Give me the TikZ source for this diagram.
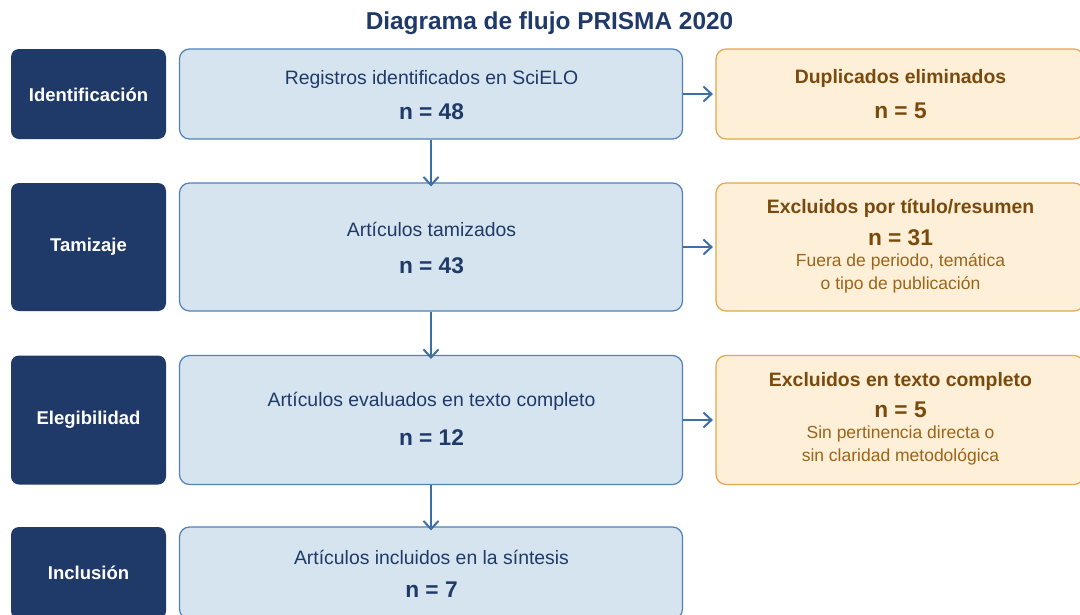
\documentclass[tikz,border=0pt]{standalone}
\usepackage{fontspec}
\setmainfont{Liberation Sans}
\usetikzlibrary{arrows.meta}
\definecolor{navy}{HTML}{1F3A68}
\definecolor{midfill}{HTML}{D6E4F0}
\definecolor{midline}{HTML}{4F82B8}
\definecolor{arrowc}{HTML}{3C6FA6}
\definecolor{orfill}{HTML}{FEEFD9}
\definecolor{orline}{HTML}{E2A74E}
\definecolor{brown}{HTML}{7A4A0C}
\definecolor{lbrown}{HTML}{9C6418}
\begin{document}
\begin{tikzpicture}[x=1pt,y=-1pt,
  phase/.style={rectangle,rounded corners=8pt,fill=navy,draw=none,minimum width=155pt,inner sep=0pt},
  midbox/.style={rectangle,rounded corners=10pt,fill=midfill,draw=midline,line width=1.2pt,minimum width=503pt,inner sep=0pt},
  exbox/.style={rectangle,rounded corners=10pt,fill=orfill,draw=orline,line width=1.2pt,minimum width=368pt,inner sep=0pt},
  phasetxt/.style={text=white,font=\fontsize{18.5}{22}\selectfont\bfseries,inner sep=0pt},
  midtxt/.style={text=navy,font=\fontsize{19.4}{23}\selectfont,inner sep=0pt},
  ntxt/.style={text=navy,font=\fontsize{22.7}{27}\selectfont\bfseries,inner sep=0pt},
  extitle/.style={text=brown,font=\fontsize{19.4}{23}\selectfont\bfseries,inner sep=0pt},
  exn/.style={text=brown,font=\fontsize{22.7}{27}\selectfont\bfseries,inner sep=0pt},
  exsub/.style={text=lbrown,font=\fontsize{17.5}{21}\selectfont,inner sep=0pt},
  flow/.style={draw=arrowc,line width=2pt,-{Straight Barb[length=8pt,width=15pt]}}
]
\useasboundingbox (0,0) rectangle (1080,614);
\clip (0,0) rectangle (1080,614);
\fill[white] (0,0) rectangle (1080,614);

\node[text=navy,font=\fontsize{24.4}{28}\selectfont\bfseries,inner sep=0pt] (title) at (549.5,23) {Diagrama de flujo PRISMA 2020};

% phase labels
\node[phase,minimum height=90pt] (p1) at (88.5,94) {};
\node[phase,minimum height=128pt] (p2) at (88.5,247) {};
\node[phase,minimum height=129pt] (p3) at (88.5,420) {};
\node[phase,minimum height=92pt] (p4) at (88.5,573) {};
\node[phasetxt] (p1t) at (88.5,95) {Identificación};
\node[phasetxt] (p2t) at (88.5,247) {Tamizaje};
\node[phasetxt] (p3t) at (88.5,420) {Elegibilidad};
\node[phasetxt] (p4t) at (88.5,573) {Inclusión};

% main boxes
\node[midbox,minimum height=90pt] (m1) at (431,94) {};
\node[midbox,minimum height=128pt] (m2) at (431,247) {};
\node[midbox,minimum height=129pt] (m3) at (431,420) {};
\node[midbox,minimum height=92pt] (m4) at (431,573) {};
\node[midtxt] (m1a) at (431.5,79) {Registros identificados en SciELO};
\node[ntxt] (m1b) at (431.5,111.5) {n = 48};
\node[midtxt] (m2a) at (431.5,229) {Artículos tamizados};
\node[ntxt] (m2b) at (431.5,265.5) {n = 43};
\node[midtxt] (m3a) at (431.5,401) {Artículos evaluados en texto completo};
\node[ntxt] (m3b) at (431.5,437.5) {n = 12};
\node[midtxt] (m4a) at (431.5,557) {Artículos incluidos en la síntesis};
\node[ntxt] (m4b) at (431.5,589.5) {n = 7};

% exclusion boxes
\node[exbox,minimum height=90pt] (e1) at (900,94) {};
\node[exbox,minimum height=128pt] (e2) at (900,247) {};
\node[exbox,minimum height=129pt] (e3) at (900,420) {};
\node[extitle] (e1a) at (900.5,78) {Duplicados eliminados};
\node[exn] (e1b) at (900.5,110.5) {n = 5};
\node[extitle] (e2a) at (900.5,208) {Excluidos por título/resumen};
\node[exn] (e2b) at (900.5,237.5) {n = 31};
\node[exsub] (e2c) at (900.5,262) {Fuera de periodo, temática};
\node[exsub] (e2d) at (900.5,285) {o tipo de publicación};
\node[extitle] (e3a) at (900.5,381) {Excluidos en texto completo};
\node[exn] (e3b) at (900.5,409.5) {n = 5};
\node[exsub] (e3c) at (900.5,434) {Sin pertinencia directa o};
\node[exsub] (e3d) at (900.5,457) {sin claridad metodológica};

% connectors
\draw[flow] (m1.south) -- ([yshift=-4pt]m2.north);
\draw[flow] (m2.south) -- ([yshift=-4pt]m3.north);
\draw[flow] (m3.south) -- ([yshift=-4pt]m4.north);
\draw[flow] (m1.east) -- ([xshift=-2.5pt]e1.west);
\draw[flow] (m2.east) -- ([xshift=-2.5pt]e2.west);
\draw[flow] (m3.east) -- ([xshift=-2.5pt]e3.west);
\end{tikzpicture}
\end{document}
